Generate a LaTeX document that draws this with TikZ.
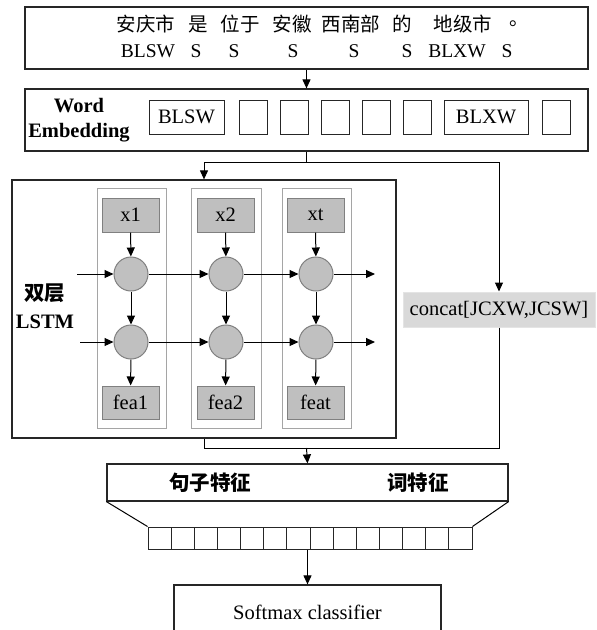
\documentclass[tikz,border=0pt]{standalone}
\usepackage{fontspec}
\setmainfont{Liberation Serif}
\newfontfamily\cjk{Noto Sans CJK SC}
\usetikzlibrary{positioning,arrows.meta}
\definecolor{boxgray}{RGB}{191,191,191}
\definecolor{cellgray}{RGB}{192,192,192}
\definecolor{colgray}{RGB}{165,165,165}
\definecolor{catgray}{RGB}{217,217,217}

\begin{document}
\begin{tikzpicture}[x=1pt,y=-1pt,node distance=12pt,inner sep=0pt,line width=1pt,font=\fontsize{20.5}{24}\selectfont]
\tikzstyle{frame}=[rectangle, line width=1.2pt, draw=black!85]
\tikzstyle{word}=[font=\fontsize{19.5}{22}\selectfont]
\tikzstyle{emb}=[rectangle, draw=black!85, minimum width=28pt, minimum height=34pt]
\tikzstyle{col}=[rectangle, draw=colgray, minimum width=69pt, minimum height=240pt]
\tikzstyle{inp}=[rectangle, draw=black!50, fill=boxgray, minimum width=57pt, minimum height=34pt]
\tikzstyle{cell}=[circle, draw=black!50, fill=cellgray, minimum size=34pt]
\tikzstyle{connect}=[-{Triangle[length=9pt,width=8pt]}]
\useasboundingbox (0,0) rectangle (597,630);
% input sentence
\node[frame, minimum width=563pt, minimum height=62pt] (sent) at (306.5,38) {};
\node[word] (w1) at (146,24) {\cjk 安庆市};
\node[word] (w2) at (198,24) {\cjk 是};
\node[word] (w3) at (240,24) {\cjk 位于};
\node[word] (w4) at (292,24) {\cjk 安徽};
\node[word] (w5) at (351,24) {\cjk 西南部};
\node[word] (w6) at (402,24) {\cjk 的};
\node[word] (w7) at (463,24) {\cjk 地级市};
\node[word] (w8) at (519,24) {\cjk 。};
\node[word, anchor=base] (t1) at (148,57) {BLSW};
\node[word, anchor=base] (t2) at (196,57) {S};
\node[word, anchor=base] (t3) at (234,57) {S};
\node[word, anchor=base] (t4) at (293,57) {S};
\node[word, anchor=base] (t5) at (354,57) {S};
\node[word, anchor=base] (t6) at (407,57) {S};
\node[word, anchor=base] (t7) at (457,57) {BLXW};
\node[word, anchor=base] (t8) at (507,57) {S};
% word embedding
\node[frame, minimum width=563pt, minimum height=62pt] (embed) at (306.5,120) {};
\node[align=center, font=\fontsize{20.5}{25}\selectfont\bfseries] (wordlbl) at (79,120) {Word\\Embedding};
\node[emb, minimum width=75pt] (e1) at (186.5,117) {BLSW};
\node[emb] (e2) [right=14pt of e1] {};
\node[emb] (e3) [right=of e2] {};
\node[emb] (e4) [right=of e3] {};
\node[emb] (e5) [right=of e4] {};
\node[emb] (e6) [right=of e5] {};
\node[emb, minimum width=84pt] (e7) [right=of e6] {BLXW};
\node[emb] (e8) [right=13pt of e7] {};
\path (sent) edge[connect] (embed);
% two-layer lstm
\node[frame, minimum width=384pt, minimum height=258pt] (lstm) at (204,309) {};
\node[align=center, font=\fontsize{20.5}{28}\selectfont\bfseries] (lstmlbl) at (45,306) {{\cjk 双层}\\LSTM};
\node[col] (col1) at (131.5,308) {};
\node[col, minimum width=70pt] (col2) at (226,308) {};
\node[col] (col3) at (316.5,308) {};
\node[inp] (x1) at (130.5,215) {x1};
\node[inp] (x2) at (225.5,215) {x2};
\node[inp] (xt) at (315.5,215) {xt};
\node[cell] (top1) at (131,274) {};
\node[cell] (top2) at (226,274) {};
\node[cell] (top3) at (316,274) {};
\node[cell] (bot1) at (131,342) {};
\node[cell] (bot2) at (226,342) {};
\node[cell] (bot3) at (316,342) {};
\node[inp, minimum height=33pt] (fea1) at (130.5,402.5) {fea1};
\node[inp, minimum height=33pt] (fea2) at (225.5,402.5) {fea2};
\node[inp, minimum height=33pt] (feat) at (315.5,402.5) {feat};
\coordinate (in1) at (77,274);
\coordinate (in2) at (80,342);
\coordinate (out1) at (375,274);
\coordinate (out2) at (375,342);
\path (x1) edge[connect] (top1) (top1) edge[connect] (bot1) (bot1) edge[connect] (fea1);
\path (x2) edge[connect] (top2) (top2) edge[connect] (bot2) (bot2) edge[connect] (fea2);
\path (xt) edge[connect] (top3) (top3) edge[connect] (bot3) (bot3) edge[connect] (feat);
\path (in1) edge[connect] (top1) (top1) edge[connect] (top2) (top2) edge[connect] (top3) (top3) edge[connect] (out1);
\path (in2) edge[connect] (bot1) (bot1) edge[connect] (bot2) (bot2) edge[connect] (bot3) (bot3) edge[connect] (out2);
% word feature
\node[rectangle, fill=catgray, draw=catgray!70, minimum width=192pt, minimum height=35pt] (concat) at (499,309.5) {concat[JCXW,JCSW]};
\coordinate (split) at (306.5,162);
\coordinate (merge) at (306.5,448);
\draw (embed.south) -- (split);
\draw[connect] (split) -| (lstm.north);
\draw[connect] (split) -| (concat.north);
\draw (lstm.south) |- (merge);
\draw (concat.south) |- (merge);
% joint features and classifier
\node[frame, minimum width=401pt, minimum height=37pt] (joint) at (307.5,482.5) {};
\node[font=\fontsize{20.5}{24}\selectfont\cjk\bfseries] (sentfea) at (210,483) {句子特征};
\node[font=\fontsize{20.5}{24}\selectfont\cjk\bfseries] (wordfea) at (418,483) {词特征};
\draw[connect] (merge) -- (joint.north);
\node[rectangle, draw=black!85, minimum width=324pt, minimum height=22pt] (cells) at (310,538) {};
\foreach \i in {1,...,13}
  \draw[draw=black!85] (148+\i*23.143,527) -- (148+\i*23.143,549);
\draw (joint.south west) -- (cells.north west);
\draw (joint.south east) -- (cells.north east);
\node[frame, minimum width=267pt, minimum height=54pt] (softmax) at (307.5,612) {Softmax classifier};
\draw[connect] (softmax.north |- cells.south) -- (softmax.north);
\end{tikzpicture}
\end{document}
